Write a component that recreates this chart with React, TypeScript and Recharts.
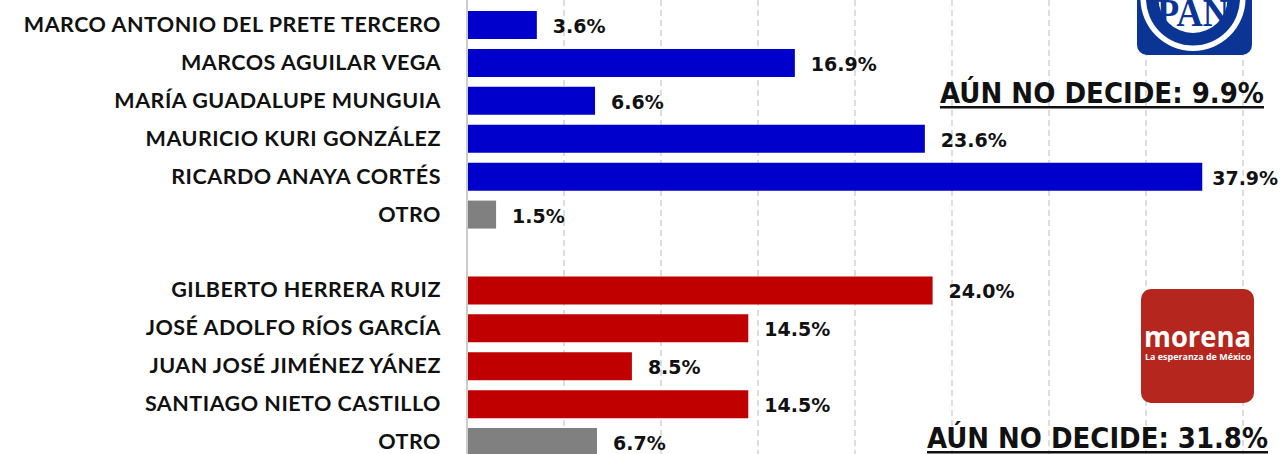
import { Bar, BarChart, CartesianGrid, Cell, LabelList, XAxis, YAxis } from "recharts";

// candidates, top to bottom (blank row separates the two parties)
const candidates = [
  "MARCO ANTONIO DEL PRETE TERCERO",
  "MARCOS AGUILAR VEGA",
  "MARÍA GUADALUPE MUNGUIA",
  "MAURICIO KURI GONZÁLEZ",
  "RICARDO ANAYA CORTÉS",
  "OTRO",
  "",
  "GILBERTO HERRERA RUIZ",
  "JOSÉ ADOLFO RÍOS GARCÍA",
  "JUAN JOSÉ JIMÉNEZ YÁNEZ",
  "SANTIAGO NIETO CASTILLO",
  "OTRO",
];
const percentages = [3.6, 16.9, 6.6, 23.6, 37.9, 1.5, null, 24.0, 14.5, 8.5, 14.5, 6.7];
const groups = ["pan", "pan", "pan", "pan", "pan", "otro", "none", "morena", "morena", "morena", "morena", "otro"];
const gridTicks = [0, 5, 10, 15, 20, 25, 30, 35, 40];
const panUndecided = "AÚN NO DECIDE: 9.9%";
const morenaUndecided = "AÚN NO DECIDE: 31.8%";

const groupColors: Record<string, string> = {
  pan: "#0000CC",
  morena: "#C00000",
  otro: "#808080",
  none: "transparent",
};

const data = candidates.map((name, i) => ({
  id: `row-${i}`,
  name,
  value: percentages[i],
  group: groups[i],
}));

const CandidateTick = (props: any) => {
  const { x, y, payload } = props;
  const row = data.find((d) => d.id === payload.value);
  return (
    <text
      x={x - 18}
      y={y - 1}
      textAnchor="end"
      dominantBaseline="central"
      fontFamily="Lato"
      fontWeight={700}
      fontSize={21.5}
      letterSpacing={0.5}
      fill="#111"
    >
      {row ? row.name : ""}
    </text>
  );
};

// value label; pulled in a bit when it would run off the right edge
const ValueLabel = (props: any) => {
  const { x, y, width, height, value } = props;
  if (value == null) return null;
  const text = `${Number(value).toFixed(1)}%`;
  const textW = text.split("").reduce((s, c) => s + (c === "." ? 7.2 : c === "%" ? 19 : 13.2), 0);
  const left = Math.min(x + width + 16, 1278 - textW);
  return (
    <text
      x={left}
      y={y + height / 2 + 1}
      dominantBaseline="central"
      fontFamily="DejaVu Sans"
      fontWeight={700}
      fontSize={19}
      fill="#111"
    >
      {text}
    </text>
  );
};

// logos and "not decided" notes drawn over the chart
const Overlay = () => (
  <svg width={1282} height={454} style={{ position: "absolute", left: 0, top: 0, pointerEvents: "none" }}>
    <rect x={1137} y={-20} width={115} height={75} rx={10} fill="#0b3595" />
    <circle cx={1193} cy={-1.5} r={52.5} fill="#ffffff" />
    <circle cx={1193} cy={-1.5} r={47} fill="#0b3595" />
    <circle cx={1193} cy={-1.5} r={34.5} fill="#ffffff" />
    <text x={1193} y={26} textAnchor="middle" fontFamily="Liberation Sans Narrow" fontWeight={700} fontSize={40} fill="#0b3595" textLength={72} lengthAdjust="spacingAndGlyphs">
      PAN
    </text>

    <text x={940} y={103} fontFamily="DejaVu Sans Condensed" fontWeight={700} fontSize={29} fill="#111" textLength={324} lengthAdjust="spacingAndGlyphs">
      {panUndecided}
    </text>
    <rect x={940} y={106} width={324} height={2.5} fill="#111" />

    <rect x={1141} y={289} width={113} height={114} rx={10} fill="#b5261e" />
    <text x={1144} y={347} fontFamily="Open Sans" fontWeight={700} fontSize={28} fill="#fff" textLength={107} lengthAdjust="spacingAndGlyphs">
      morena
    </text>
    <text x={1145} y={360} fontFamily="Open Sans" fontWeight={700} fontSize={8.5} fill="#fff" textLength={106} lengthAdjust="spacingAndGlyphs">
      La esperanza de México
    </text>

    <text x={927} y={448} fontFamily="DejaVu Sans Condensed" fontWeight={700} fontSize={29} fill="#111" textLength={341} lengthAdjust="spacingAndGlyphs">
      {morenaUndecided}
    </text>
    <rect x={927} y={451} width={341} height={2.5} fill="#111" />
  </svg>
);

export default function App() {
  return (
    <div style={{ position: "relative", width: 1282, height: 454, overflow: "hidden", background: "#fff" }}>
      <style>{`body{margin:0;overflow:hidden}`}</style>
      <BarChart
        width={1282}
        height={461}
        data={data}
        layout="vertical"
        margin={{ top: 0, right: 39, bottom: 0, left: 0 }}
        barSize={28}
      >
        <CartesianGrid
          horizontal={false}
          stroke="#d4d4d4"
          strokeDasharray="6 4"
          strokeWidth={1.5}
        />
        <XAxis type="number" domain={[0, 40]} ticks={gridTicks} hide />
        <YAxis
          type="category"
          dataKey="id"
          width={467}
          interval={0}
          padding={{ top: 6, bottom: 0 }}
          tick={<CandidateTick />}
          tickLine={false}
          axisLine={{ stroke: "#cccccc", strokeWidth: 2 }}
        />
        <Bar dataKey="value" isAnimationActive={false}>
          {data.map((d) => (
            <Cell key={d.id} fill={groupColors[d.group]} />
          ))}
          <LabelList dataKey="value" content={<ValueLabel />} />
        </Bar>
      </BarChart>
      <Overlay />
    </div>
  );
}
